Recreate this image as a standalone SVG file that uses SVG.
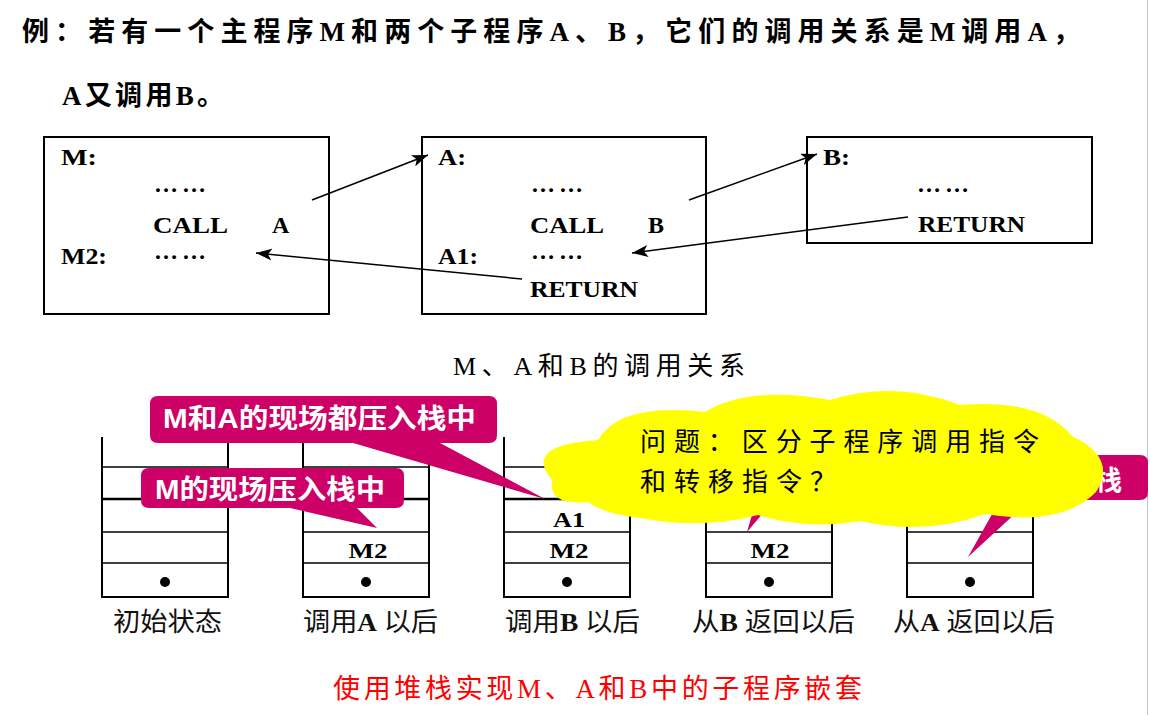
<svg xmlns="http://www.w3.org/2000/svg" width="1151" height="715" viewBox="0 0 1151 715">
  <style>
    .title { font-family: 'Liberation Serif', 'Noto Sans CJK SC', serif; font-weight: bold; font-size: 27px; fill: #000; }
    .code { font-family: 'Liberation Serif', serif; font-weight: bold; font-size: 24px; fill: #000; }
    .dots { font-family: 'Liberation Serif', serif; font-weight: bold; font-size: 24px; fill: #000; }
    .cap { font-family: 'Liberation Serif', 'Noto Sans CJK SC', serif; font-size: 26px; fill: #000; }
    .red { font-family: 'Liberation Serif', 'Noto Sans CJK SC', serif; font-size: 27px; fill: #ff0000; }
    .lbl { font-family: 'Liberation Serif', 'Noto Sans CJK SC', serif; font-size: 26px; fill: #111; }
    .lbl tspan.b { font-weight: bold; }
    .cell { font-family: 'Liberation Serif', serif; font-weight: bold; font-size: 22px; fill: #000; text-anchor: middle; }
    .box { fill: #fff; stroke: #000; stroke-width: 2; }
    .wire { fill: none; stroke: #000; stroke-width: 1.5; marker-end: url(#arrow); }
    .stackv { stroke: #000; stroke-width: 2; }
    .stackh { stroke: #000; stroke-width: 1.5; }
    .stackh2 { stroke: #000; stroke-width: 2.5; }
    .callout { fill: #cc0066; }
    .ctext { font-family: 'Liberation Sans', 'Noto Sans CJK SC', sans-serif; font-weight: bold; font-size: 27px; fill: #fff; }
    .cloud { fill: #ffff00; }
    .qtext { font-family: 'Noto Sans CJK SC', sans-serif; font-size: 26px; fill: #000; letter-spacing: 8px; }
  </style>
  <defs>
    <marker id="arrow" markerUnits="userSpaceOnUse" markerWidth="18" markerHeight="12" refX="16" refY="6" orient="auto">
      <path d="M0,0 L16,6 L0,12 L4,6 Z" fill="#000"/>
    </marker>
    <g id="stack">
      <line class="stackv" x1="0" y1="437" x2="0" y2="597"/>
      <line class="stackv" x1="126" y1="437" x2="126" y2="597"/>
      <line class="stackh" x1="0" y1="467" x2="126" y2="467"/>
      <line class="stackh2" x1="0" y1="499" x2="126" y2="499"/>
      <line class="stackh" x1="0" y1="532" x2="126" y2="532"/>
      <line class="stackh" x1="0" y1="563" x2="126" y2="563"/>
      <line class="stackv" x1="-1" y1="597" x2="127" y2="597"/>
      <circle cx="63" cy="582" r="5" fill="#000"/>
    </g>
  </defs>

  <rect width="1151" height="715" fill="#fff"/>
  <line x1="1147.5" y1="0" x2="1147.5" y2="715" stroke="#c4c4c4" stroke-width="1"/>

  <!-- heading -->
  <g id="heading">
    <text class="title" x="22" y="41" textLength="1058" lengthAdjust="spacing">例：若有一个主程序M和两个子程序A、B，它们的调用关系是M调用A，</text>
    <text class="title" x="62" y="105" textLength="162" lengthAdjust="spacing">A又调用B。</text>
  </g>

  <!-- program boxes -->
  <g id="proc-m">
    <rect class="box" x="44" y="137" width="285" height="177"/>
    <text class="code" x="61" y="165" textLength="36" lengthAdjust="spacingAndGlyphs">M:</text>
    <text class="dots" x="154" y="192" textLength="52" lengthAdjust="spacing">……</text>
    <text class="code" x="153" y="233" textLength="75" lengthAdjust="spacingAndGlyphs">CALL</text>
    <text class="code" x="272" y="233">A</text>
    <text class="code" x="61" y="264" textLength="46" lengthAdjust="spacingAndGlyphs">M2:</text>
    <text class="dots" x="154" y="259" textLength="52" lengthAdjust="spacing">……</text>
  </g>
  <g id="proc-a">
    <rect class="box" x="422" y="137" width="284" height="177"/>
    <text class="code" x="438" y="165" textLength="28" lengthAdjust="spacingAndGlyphs">A:</text>
    <text class="dots" x="531" y="192" textLength="52" lengthAdjust="spacing">……</text>
    <text class="code" x="530" y="233" textLength="74" lengthAdjust="spacingAndGlyphs">CALL</text>
    <text class="code" x="648" y="233">B</text>
    <text class="code" x="438" y="264" textLength="40" lengthAdjust="spacingAndGlyphs">A1:</text>
    <text class="dots" x="531" y="259" textLength="52" lengthAdjust="spacing">……</text>
    <text class="code" x="530" y="297" textLength="108" lengthAdjust="spacingAndGlyphs">RETURN</text>
  </g>
  <g id="proc-b">
    <rect class="box" x="807" y="137" width="285" height="106"/>
    <text class="code" x="823" y="165" textLength="27" lengthAdjust="spacingAndGlyphs">B:</text>
    <text class="dots" x="917" y="192" textLength="52" lengthAdjust="spacing">……</text>
    <text class="code" x="918" y="232" textLength="107" lengthAdjust="spacingAndGlyphs">RETURN</text>
  </g>

  <!-- call / return connectors -->
  <g id="connectors">
    <line class="wire" x1="312" y1="200" x2="428" y2="155"/>
    <line class="wire" x1="689" y1="200" x2="817" y2="154"/>
    <line class="wire" x1="908" y1="217" x2="632" y2="253"/>
    <line class="wire" x1="522" y1="279" x2="256" y2="253"/>
  </g>

  <text class="cap" x="453" y="375" textLength="292" lengthAdjust="spacing">M、A和B的调用关系</text>

  <!-- stack snapshots -->
  <g id="stack-init">
    <use href="#stack" x="102"/>
    <text class="lbl" x="113" y="631" textLength="109" lengthAdjust="spacingAndGlyphs">初始状态</text>
  </g>
  <g id="stack-call-a">
    <use href="#stack" x="303"/>
    <text class="cell" x="368" y="558" textLength="39" lengthAdjust="spacingAndGlyphs">M2</text>
    <text class="lbl" x="303" y="631" textLength="135" lengthAdjust="spacingAndGlyphs">调用<tspan class="b">A</tspan> 以后</text>
  </g>
  <g id="stack-call-b">
    <use href="#stack" x="504"/>
    <text class="cell" x="569" y="527" textLength="32" lengthAdjust="spacingAndGlyphs">A1</text>
    <text class="cell" x="569" y="558" textLength="39" lengthAdjust="spacingAndGlyphs">M2</text>
    <text class="lbl" x="505" y="631" textLength="135" lengthAdjust="spacingAndGlyphs">调用<tspan class="b">B</tspan> 以后</text>
  </g>
  <g id="stack-ret-b">
    <use href="#stack" x="706"/>
    <text class="cell" x="770" y="558" textLength="39" lengthAdjust="spacingAndGlyphs">M2</text>
    <text class="lbl" x="692" y="631" textLength="163" lengthAdjust="spacingAndGlyphs">从<tspan class="b">B</tspan> 返回以后</text>
  </g>
  <g id="stack-ret-a">
    <use href="#stack" x="907"/>
    <text class="lbl" x="893" y="631" textLength="162" lengthAdjust="spacingAndGlyphs">从<tspan class="b">A</tspan> 返回以后</text>
  </g>

  <!-- callouts -->
  <g id="callout-ma">
    <path class="callout" d="M158,396 H489 Q497,396 497,404 V435 Q497,443 489,443 H440 L545,499 L353,443 H158 Q150,443 150,435 V404 Q150,396 158,396 Z"/>
    <text class="ctext" x="163" y="428" textLength="313" lengthAdjust="spacingAndGlyphs">M和A的现场都压入栈中</text>
  </g>
  <g id="callout-m">
    <path class="callout" d="M149,468 H396 Q404,468 404,476 V500 Q404,508 396,508 H357 L377,528 L290,508 H149 Q141,508 141,500 V476 Q141,468 149,468 Z"/>
    <text class="ctext" x="155" y="499" textLength="230" lengthAdjust="spacingAndGlyphs">M的现场压入栈中</text>
  </g>
  <g id="callout-pop-a">
    <path class="callout" d="M765,470 L800,470 L747,532 Z"/>
  </g>
  <g id="callout-pop-m">
    <path class="callout" d="M888,455 H1140 Q1148,455 1148,463 V492 Q1148,500 1140,500 H1030 L968,557 L1000,500 H888 Z"/>
    <text class="ctext" x="1068" y="490">出栈</text>
  </g>

  <!-- question cloud -->
  <g id="cloud">
    <path class="cloud" d="M552,480
      Q 522,445 598,440
      Q 620,402 705,412
      Q 750,385 830,400
      Q 895,380 960,405
      Q 1040,398 1072,436
      Q 1118,458 1096,492
      Q 1062,527 985,514
      Q 925,536 860,521
      Q 808,530 758,515
      Q 702,530 640,518
      Q 604,514 588,502
      Q 548,506 552,480 Z"/>
    <text class="qtext" x="640" y="451" textLength="407" lengthAdjust="spacing">问题：区分子程序调用指令</text>
    <text class="qtext" x="640" y="491">和转移指令？</text>
  </g>

  <text class="red" x="333" y="698" textLength="529" lengthAdjust="spacing">使用堆栈实现M、A和B中的子程序嵌套</text>
</svg>
